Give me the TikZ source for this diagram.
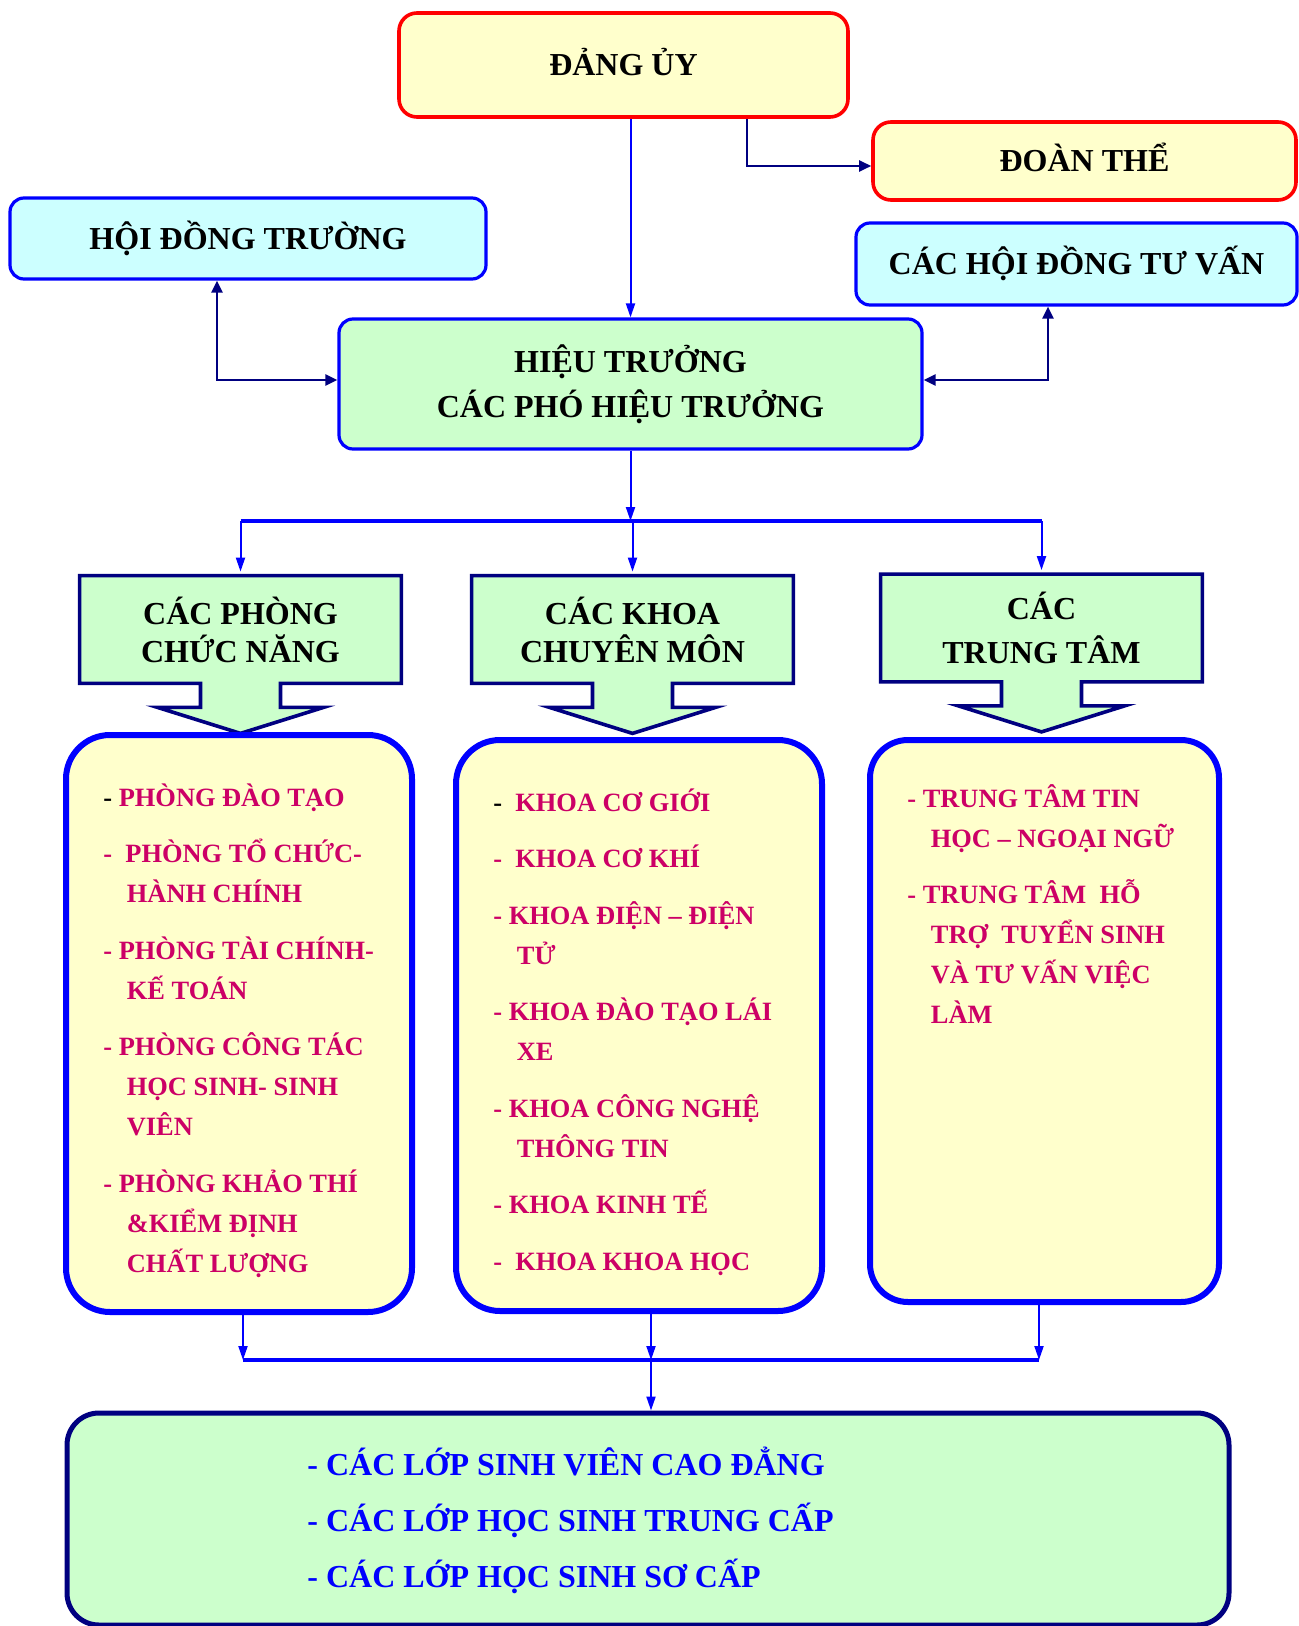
\documentclass[tikz,border=0pt]{standalone}
\usepackage{fontspec}
\setmainfont{Liberation Serif}
\usetikzlibrary{arrows.meta, calc, backgrounds}
\definecolor{paleyellow}{HTML}{FFFFCC}
\definecolor{palecyan}{HTML}{CCFFFF}
\definecolor{palegreen}{HTML}{CCFFCC}
\definecolor{navy}{HTML}{000080}
\definecolor{crimson}{HTML}{CC0066}
\newcommand{\contline}{\hspace*{11.75pt}}

\begin{document}
\begin{tikzpicture}[
        x=0.5pt, y=-0.5pt,
        redbox/.style={rectangle, draw=red, line width=1.8pt, fill=paleyellow, rounded corners=9pt, font=\fontsize{16}{19}\selectfont\bfseries, text height=10.6pt, text depth=0pt},
        bluebox/.style={rectangle, draw=blue, line width=1.6pt, rounded corners=7pt, font=\fontsize{16}{22.5}\selectfont\bfseries, align=center},
        titlebox/.style={rectangle, minimum width=160.5pt, minimum height=53.5pt, inner sep=0pt, align=center, font=\fontsize{16}{19}\selectfont\bfseries},
        callout/.style={draw=navy, line width=1.8pt, fill=palegreen, line join=miter},
        listbox/.style={rectangle, draw=blue, line width=3pt, fill=paleyellow, rounded corners=22pt},
        listtext/.style={anchor=north west, inner sep=0pt, align=left, text=crimson, font=\fontsize{13.2}{20}\selectfont\bfseries},
        link/.style={-{Triangle[length=7pt, width=4.5pt]}, blue, line width=1pt},
        navylink/.style={navy, line width=1.2pt, >={Triangle[length=6pt, width=5.5pt]}},
        bus/.style={blue, line width=1.6pt}
    ]
    \useasboundingbox (0,0) rectangle (1299,1626);

    % top level
    \node[redbox, minimum width=224.5pt, minimum height=52pt] (dang) at (623.5,65) {ĐẢNG ỦY};
    \node[redbox, minimum width=211.5pt, minimum height=39pt] (doan) at (1084.5,161) {ĐOÀN THỂ};
    \node[bluebox, fill=palecyan, minimum width=238pt, minimum height=40.5pt, text height=10.6pt, text depth=0pt] (hoidong) at (248,238.5) {HỘI ĐỒNG TRƯỜNG};
    \node[bluebox, fill=palecyan, minimum width=220.5pt, minimum height=41pt, text height=10.6pt, text depth=0pt] (tuvan) at (1076.5,264) {CÁC HỘI ĐỒNG TƯ VẤN};
    \node[bluebox, fill=palegreen, minimum width=291.5pt, minimum height=65pt] (hieutruong) at (630.5,384) {HIỆU TRƯỞNG\\CÁC PHÓ HIỆU TRƯỞNG};

    \draw[link] (hieutruong.north |- dang.south) -- (hieutruong.north);
    \draw[navylink, ->] ([xshift=61.75pt]dang.south) |- ([yshift=-2.5pt]doan.west);
    \draw[navylink, <->] ([xshift=-15.5pt]hoidong.south) |- ([yshift=2pt]hieutruong.west);
    \draw[navylink, <->] ([xshift=-14.25pt]tuvan.south) |- ([yshift=2pt]hieutruong.east);

    % the three groups
    \node[titlebox] (phong) at (240.5,629.5) {CÁC PHÒNG\\CHỨC NĂNG};
    \node[titlebox] (khoa) at (632.5,629.5) {CÁC KHOA\\CHUYÊN MÔN};
    \node[titlebox, font=\fontsize{16}{22}\selectfont\bfseries] (trungtam) at (1041.5,628) {CÁC\\TRUNG TÂM};
    \begin{scope}[on background layer]
        \foreach \n in {phong, khoa, trungtam}
            \draw[callout] (\n.north west) -- (\n.north east) -- (\n.south east)
                -- ($(\n.south)+(40,0)$) -- ($(\n.south)+(40,24)$) -- ($(\n.south)+(83,24)$)
                -- ($(\n.south)+(0,50)$) -- ($(\n.south)+(-83,24)$) -- ($(\n.south)+(-40,24)$)
                -- ($(\n.south)+(-40,0)$) -- (\n.south west) -- cycle;
    \end{scope}

    \coordinate (topbus) at (631,521);
    \draw[link] (hieutruong.south) -- (hieutruong.south |- topbus);
    \draw[bus] (phong.north |- topbus) -- (trungtam.north |- topbus);
    \foreach \n in {phong, khoa, trungtam}
        \draw[link] (\n.north |- topbus) -- ([yshift=2pt]\n.north);

    % lists
    \node[listbox, minimum width=173pt, minimum height=288.5pt] (ds1) at (239,1023.5) {};
    \node[listbox, minimum width=183pt, minimum height=285.5pt] (ds2) at (639,1025.5) {};
    \node[listbox, minimum width=174.5pt, minimum height=281pt, rounded corners=19pt] (ds3) at (1044.5,1021) {};

    \node[listtext] (ds1text) at (103,783) {{\color{black}-} PHÒNG ĐÀO TẠO\\[8.25pt]
        -\ \ PHÒNG TỔ CHỨC-\\
        \contline HÀNH CHÍNH\\[8.25pt]
        - PHÒNG TÀI CHÍNH-\\
        \contline KẾ TOÁN\\[8.25pt]
        - PHÒNG CÔNG TÁC\\
        \contline HỌC SINH- SINH\\
        \contline VIÊN\\[8.25pt]
        - PHÒNG KHẢO THÍ\\
        \contline \&KIỂM ĐỊNH\\
        \contline CHẤT LƯỢNG};
    \node[listtext] (ds2text) at (493,788) {{\color{black}-}\ \ KHOA CƠ GIỚI\\[8.25pt]
        -\ \ KHOA CƠ KHÍ\\[8.25pt]
        - KHOA ĐIỆN – ĐIỆN\\
        \contline TỬ\\[8.25pt]
        - KHOA ĐÀO TẠO LÁI\\
        \contline XE\\[8.25pt]
        - KHOA CÔNG NGHỆ\\
        \contline THÔNG TIN\\[8.25pt]
        - KHOA KINH TẾ\\[8.25pt]
        -\ \ KHOA KHOA HỌC};
    \node[listtext] (ds3text) at (907,784) {- TRUNG TÂM TIN\\
        \contline HỌC – NGOẠI NGỮ\\[8.25pt]
        - TRUNG TÂM\ \ HỖ\\
        \contline TRỢ\ \ TUYỂN SINH\\
        \contline VÀ TƯ VẤN VIỆC\\
        \contline LÀM};

    % classes
    \node[rectangle, draw=navy, line width=2.5pt, fill=palegreen, rounded corners=16pt, minimum width=581pt, minimum height=106pt] (lop) at (648,1519) {};
    \node[anchor=north west, inner sep=0pt, align=left, text=blue, font=\fontsize{16}{28}\selectfont\bfseries] (loptext) at (307,1447) {- CÁC LỚP SINH VIÊN CAO ĐẲNG\\
        - CÁC LỚP HỌC SINH TRUNG CẤP\\
        - CÁC LỚP HỌC SINH SƠ CẤP};

    \coordinate (drop1) at (243,1360);
    \coordinate (drop2) at (651,1360);
    \coordinate (drop3) at (1039,1360);
    \draw[bus] (drop1) -- (drop3);
    \draw[link] (ds1.south -| drop1) -- (drop1);
    \draw[link] (ds2.south -| drop2) -- (drop2);
    \draw[link] (ds3.south -| drop3) -- (drop3);
    \draw[link] (drop2) -- (drop2 |- lop.north);
\end{tikzpicture}
\end{document}
